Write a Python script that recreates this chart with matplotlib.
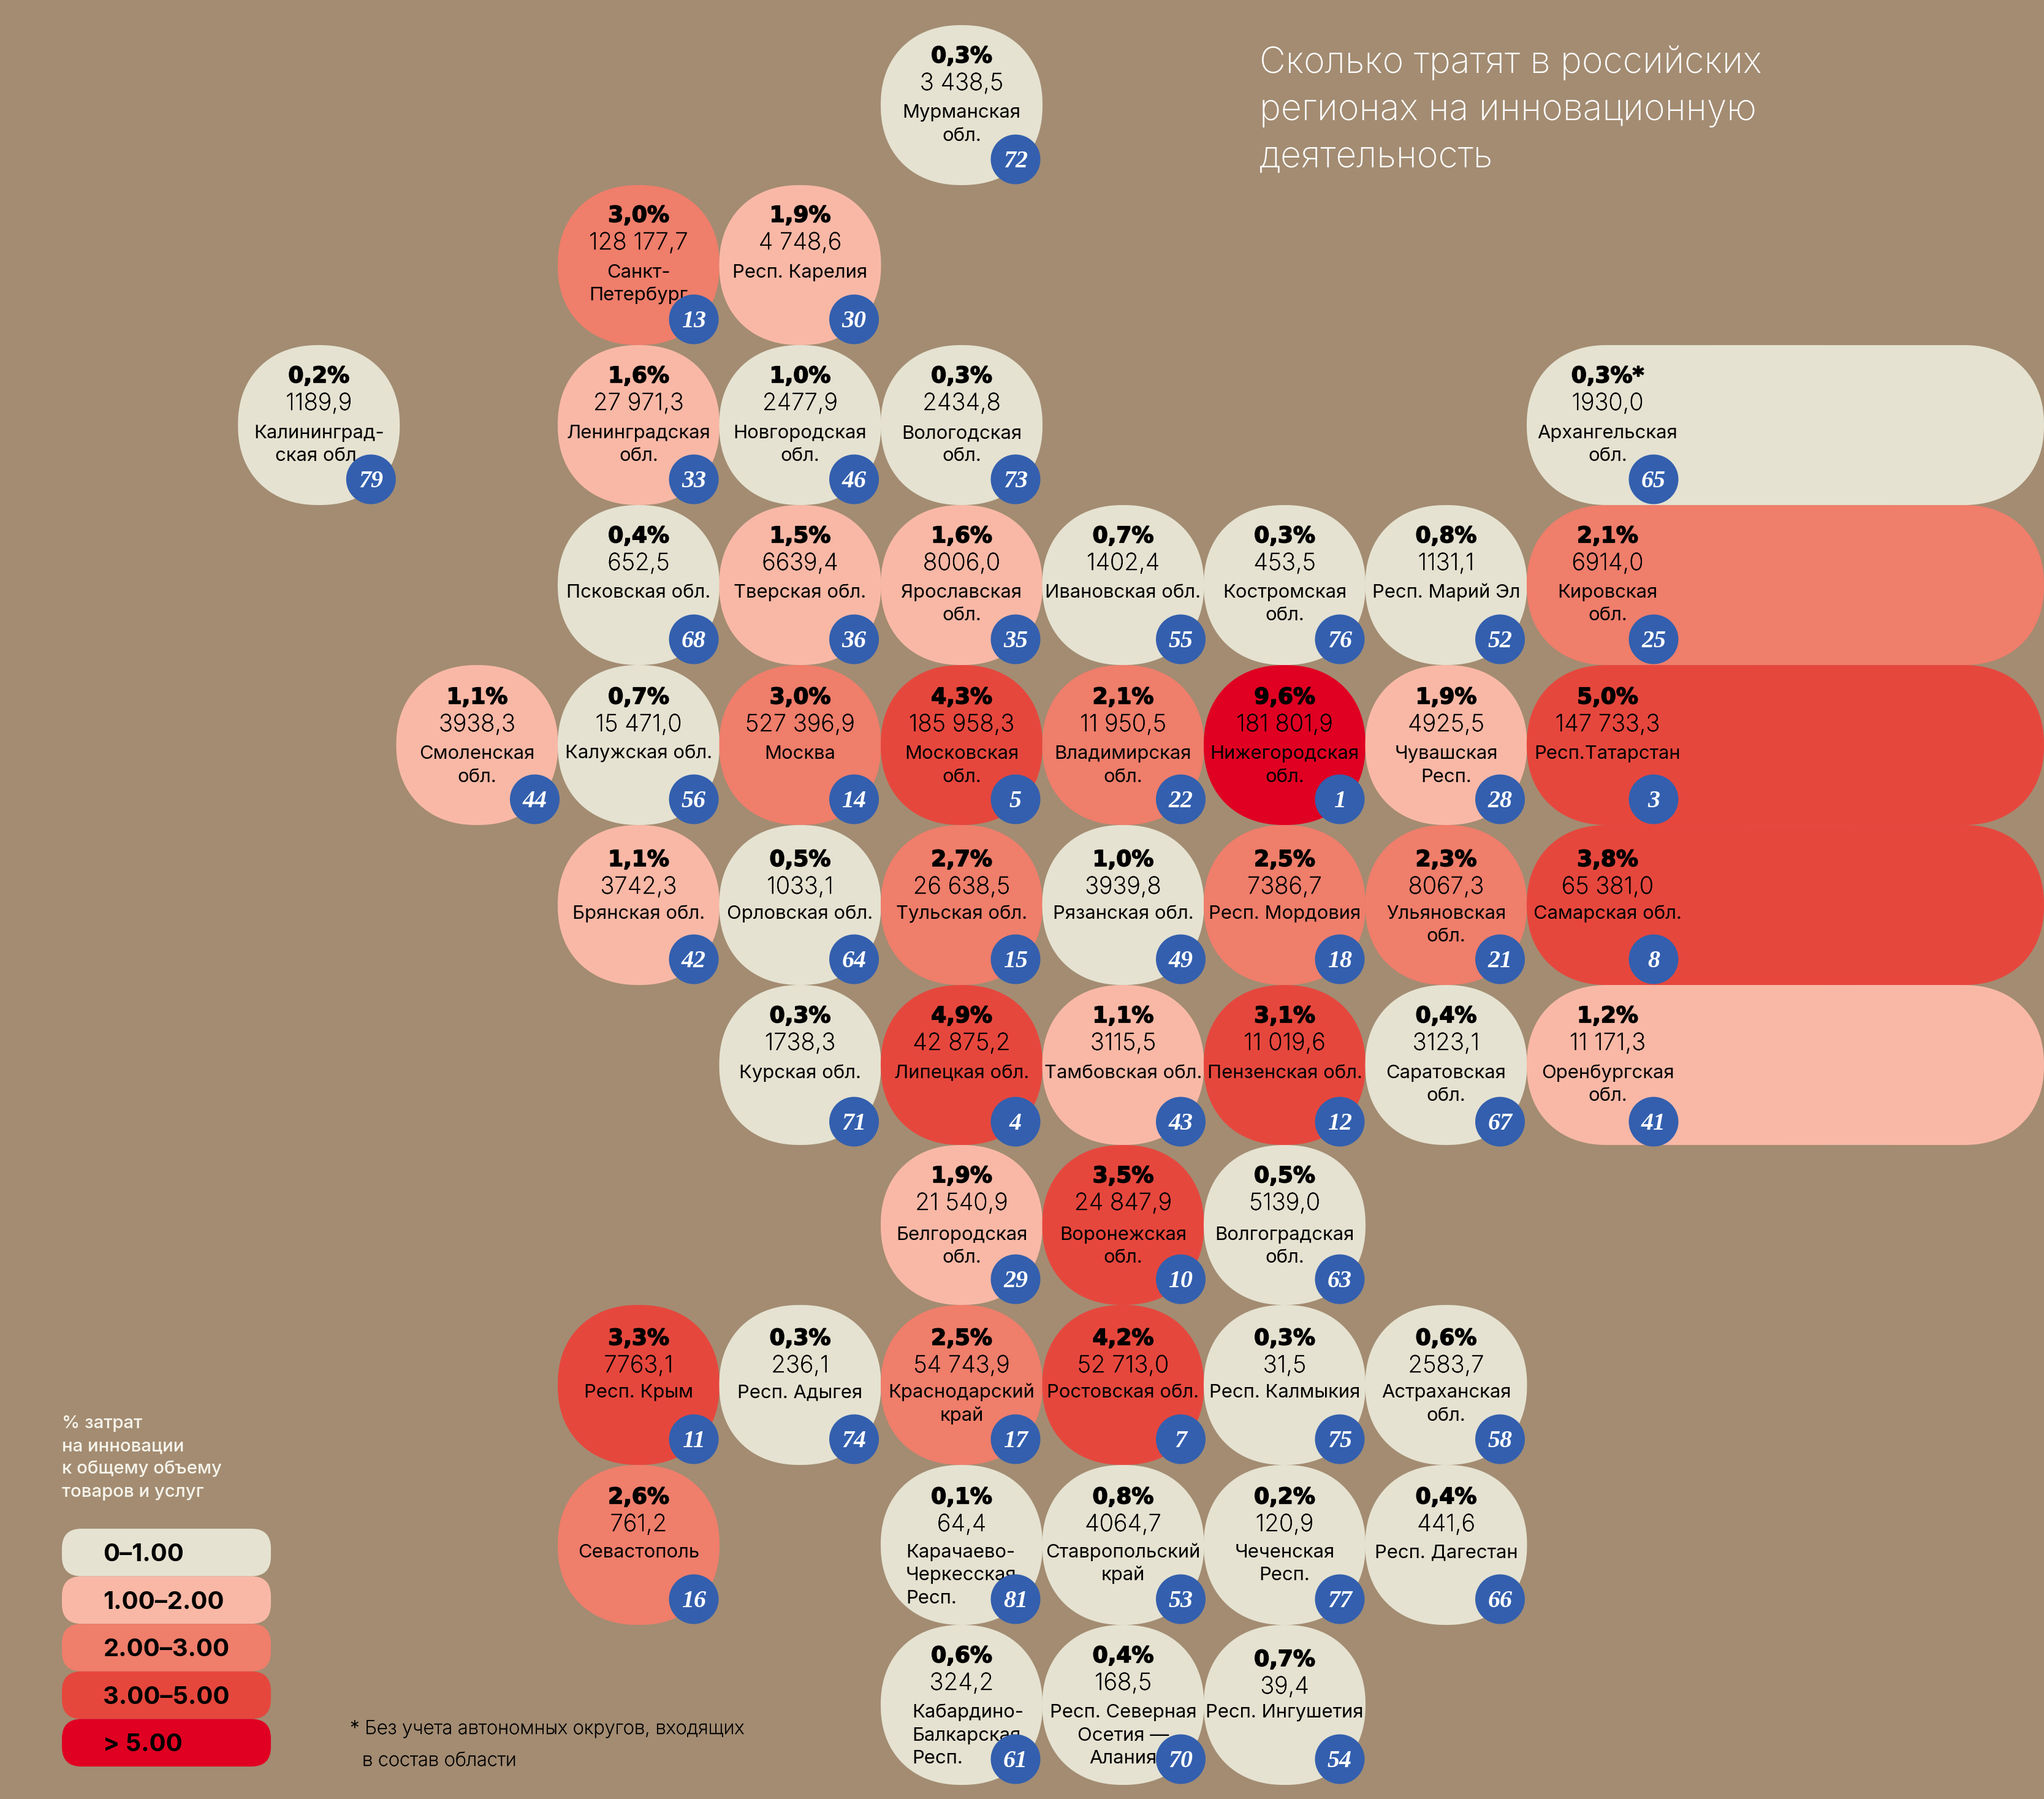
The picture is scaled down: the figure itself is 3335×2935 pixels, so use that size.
import numpy as np
import matplotlib
matplotlib.use('Agg')
import matplotlib.pyplot as plt
import matplotlib.patheffects as pe
from matplotlib.patches import PathPatch, Circle, FancyBboxPatch
from matplotlib.path import Path

# data
names = [
    'Мурманская\nобл.',
    'Санкт-\nПетербург', 'Респ. Карелия',
    'Калининград-\nская обл.', 'Ленинградская\nобл.', 'Новгородская\nобл.', 'Вологодская\nобл.', 'Архангельская\nобл.',
    'Псковская обл.', 'Тверская обл.', 'Ярославская\nобл.', 'Ивановская обл.', 'Костромская\nобл.', 'Респ. Марий Эл', 'Кировская\nобл.',
    'Смоленская\nобл.', 'Калужская обл.', 'Москва', 'Московская\nобл.', 'Владимирская\nобл.', 'Нижегородская\nобл.', 'Чувашская\nРесп.', 'Респ.Татарстан',
    'Брянская обл.', 'Орловская обл.', 'Тульская обл.', 'Рязанская обл.', 'Респ. Мордовия', 'Ульяновская\nобл.', 'Самарская обл.',
    'Курская обл.', 'Липецкая обл.', 'Тамбовская обл.', 'Пензенская обл.', 'Саратовская\nобл.', 'Оренбургская\nобл.',
    'Белгородская\nобл.', 'Воронежская\nобл.', 'Волгоградская\nобл.',
    'Респ. Крым', 'Респ. Адыгея', 'Краснодарский\nкрай', 'Ростовская обл.', 'Респ. Калмыкия', 'Астраханская\nобл.',
    'Севастополь', 'Карачаево-\nЧеркесская\nРесп.', 'Ставропольский\nкрай', 'Чеченская\nРесп.', 'Респ. Дагестан',
    'Кабардино-\nБалкарская\nРесп.', 'Респ. Северная\nОсетия —\nАлания', 'Респ. Ингушетия',
]
percent = [
    0.3,
    3.0, 1.9,
    0.2, 1.6, 1.0, 0.3, 0.3,
    0.4, 1.5, 1.6, 0.7, 0.3, 0.8, 2.1,
    1.1, 0.7, 3.0, 4.3, 2.1, 9.6, 1.9, 5.0,
    1.1, 0.5, 2.7, 1.0, 2.5, 2.3, 3.8,
    0.3, 4.9, 1.1, 3.1, 0.4, 1.2,
    1.9, 3.5, 0.5,
    3.3, 0.3, 2.5, 4.2, 0.3, 0.6,
    2.6, 0.1, 0.8, 0.2, 0.4,
    0.6, 0.4, 0.7,
]
amount = [
    '3 438,5',
    '128 177,7', '4 748,6',
    '1189,9', '27 971,3', '2477,9', '2434,8', '1930,0',
    '652,5', '6639,4', '8006,0', '1402,4', '453,5', '1131,1', '6914,0',
    '3938,3', '15 471,0', '527 396,9', '185 958,3', '11 950,5', '181 801,9', '4925,5', '147 733,3',
    '3742,3', '1033,1', '26 638,5', '3939,8', '7386,7', '8067,3', '65 381,0',
    '1738,3', '42 875,2', '3115,5', '11 019,6', '3123,1', '11 171,3',
    '21 540,9', '24 847,9', '5139,0',
    '7763,1', '236,1', '54 743,9', '52 713,0', '31,5', '2583,7',
    '761,2', '64,4', '4064,7', '120,9', '441,6',
    '324,2', '168,5', '39,4',
]
rank = [
    72,
    13, 30,
    79, 33, 46, 73, 65,
    68, 36, 35, 55, 76, 52, 25,
    44, 56, 14, 5, 22, 1, 28, 3,
    42, 64, 15, 49, 18, 21, 8,
    71, 4, 43, 12, 67, 41,
    29, 10, 63,
    11, 74, 17, 7, 75, 58,
    16, 81, 53, 77, 66,
    61, 70, 54,
]
legend_labels = ['0–1.00', '1.00–2.00', '2.00–3.00', '3.00–5.00', '> 5.00']
bin_edges = [1, 2, 3, 5]
title = 'Сколько тратят в российских\nрегионах на инновационную\nдеятельность'
legend_title = ['% затрат', 'на инновации', 'к общему объему', 'товаров и услуг']
footnote = ['* Без учета автономных округов, входящих', 'в состав области']

# where each tile sits on the grid
tile_col = [4,
            2, 3,
            0.02, 2, 3, 4, 8,
            2, 3, 4, 5, 6, 7, 8,
            1, 2, 3, 4, 5, 6, 7, 8,
            2, 3, 4, 5, 6, 7, 8,
            3, 4, 5, 6, 7, 8,
            4, 5, 6,
            2, 3, 4, 5, 6, 7,
            2, 4, 5, 6, 7,
            4, 5, 6]
tile_row = [0,
            1, 1,
            2, 2, 2, 2, 2,
            3, 3, 3, 3, 3, 3, 3,
            4, 4, 4, 4, 4, 4, 4, 4,
            5, 5, 5, 5, 5, 5, 5,
            6, 6, 6, 6, 6, 6,
            7, 7, 7,
            8, 8, 8, 8, 8, 8,
            9, 9, 9, 9, 9,
            10, 10, 10]

# small hand nudges, the original layout is not quite regular
head_dy = [0, -1, 0, 0, 2, 6, 0, 0, 4, 2, 0]   # per row, percent + amount
name_dy = [0, 0, 1, 0, 2, 2, 1, 4, 0, 0, 0]    # per row
badge_dx = [-3, 6, 2, 0, 0, 6, 2, 0, 0]        # per col
badge_dy = [0, 0, 0, 0, 0, 0, 4, 0, 0, 0, 0]   # per row
name_left = {81: 41, 61: 51}                   # these two names are flush left

bg = '#a38c72'
colors = ['#e5e2d1', '#f9b8a6', '#ef7e6b', '#e6473d', '#e00022']
blue = '#335fae'

W, H = 3335, 2935
fig = plt.figure(figsize=(W / 100, H / 100), dpi=100, facecolor=bg)
ax = fig.add_axes([0, 0, 1, 1])
ax.set_xlim(0, W)
ax.set_ylim(H, 0)
ax.axis('off')

px = 72 / 100  # font sizes below are given in pixels
sans = ['Inter', 'Roboto', 'DejaVu Sans']
heavy = [pe.withStroke(linewidth=1.2, foreground='black')]
firm = [pe.withStroke(linewidth=0.35, foreground='black')]

col_w, row_h = 263.5, 261.0
x0, y0 = 383.0, 41.0
tile_w, tile_h = 264, 261
power = 2.2


def blob(left, top, width, height):
    # squircle, stretched to a pill when wider than a normal tile
    a, b = tile_w / 2, height / 2
    t = np.linspace(0, 2 * np.pi, 241)
    c, s = np.cos(t), np.sin(t)
    x = a * np.sign(c) * np.abs(c) ** (2 / power)
    y = b * np.sign(s) * np.abs(s) ** (2 / power)
    stretch = width - tile_w
    x = np.where(c >= 0, x + stretch + a, x + a)
    return Path(np.column_stack([left + x, top + b + y]))


for i in range(len(names)):
    col, row = tile_col[i], tile_row[i]
    left = x0 + col * col_w
    top = y0 + row * row_h
    width = W - left if col == 8 else tile_w
    color = colors[np.digitize(percent[i], bin_edges, right=True)]
    ax.add_patch(PathPatch(blob(left, top, width, tile_h), fc=color, ec='none', zorder=1))

    cx = left + tile_w / 2
    label = f'{percent[i]:.1f}'.replace('.', ',') + '%'
    if rank[i] == 65:
        label += '*'
    dy = head_dy[row] + (6 if rank[i] == 54 else 0)
    ax.text(cx, top + 61 + dy, label, ha='center', va='baseline', fontsize=36 * px,
            family=['DejaVu Sans'], fontweight='bold', color='black', zorder=2, path_effects=heavy)
    ax.text(cx, top + 106 + dy, amount[i], ha='center', va='baseline', fontsize=38.5 * px,
            family=sans, fontweight='light', color='black', zorder=2, path_effects=firm)
    for k, line in enumerate(names[i].split('\n')):
        if rank[i] in name_left:
            nx, ha = left + name_left[rank[i]], 'left'
        else:
            nx, ha = cx, 'center'
        ax.text(nx, top + 151 + name_dy[row] + k * 37.5, line, ha=ha, va='baseline', fontsize=31 * px,
                family=sans, color='black', zorder=2)

    bx = left + (207 if col == 8 else 220 + badge_dx[int(col)])
    by = top + 219 + badge_dy[row]
    ax.add_patch(Circle((bx, by), 40.5, fc=blue, ec='none', zorder=3))
    ax.text(bx, by + 13, str(rank[i]), ha='center', va='baseline', fontsize=40 * px,
            family=['Liberation Serif'], style='italic', fontweight='bold', color='white', zorder=4)

# title
for k, line in enumerate(title.split('\n')):
    ax.text(2055, 119 + k * 77, line, ha='left', va='baseline', fontsize=59 * px,
            family=sans, fontweight='light', color='white')

# legend
for k, line in enumerate(legend_title):
    ax.text(101, 2330 + k * 37.4, line, ha='left', va='baseline', fontsize=29.3 * px,
            family=sans, fontweight='medium', color='#f7f5ec')
for k, lab in enumerate(legend_labels):
    top = 2494 + k * 77.6
    ax.add_patch(FancyBboxPatch((101 + 32, top + 32), 341 - 64, 77.6 - 64,
                                boxstyle='round,pad=32', fc=colors[k], ec='none'))
    ax.text(168.5, top + 53, lab, ha='left', va='baseline', fontsize=40 * px,
            family=sans, fontweight='bold', color='black')

# footnote
ax.text(571, 2829, footnote[0], ha='left', va='baseline', fontsize=31 * px, family=sans, fontweight='light', color='black', path_effects=firm)
ax.text(591, 2881, footnote[1], ha='left', va='baseline', fontsize=31 * px, family=sans, fontweight='light', color='black', path_effects=firm)

fig.savefig('out.png', dpi=100, facecolor=bg)
